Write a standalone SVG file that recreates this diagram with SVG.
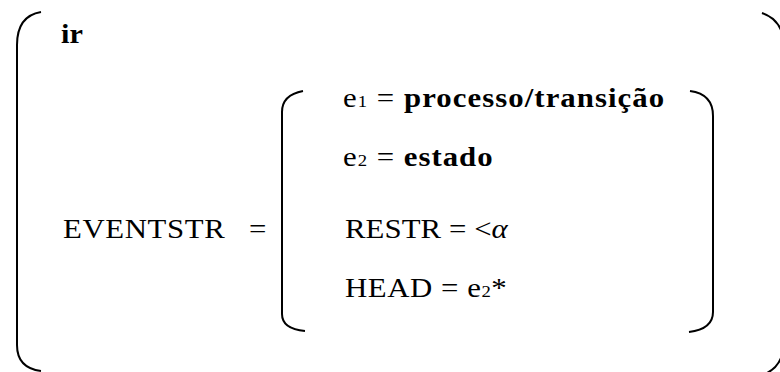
<svg xmlns="http://www.w3.org/2000/svg" width="780" height="372" viewBox="0 0 780 372">
  <style>
    .t { font-family: "Liberation Serif", "DejaVu Serif", serif; font-size: 28px; fill: #000; }
    .b { font-weight: bold; }
    .sub { font-size: 17px; }
    .br { fill: none; stroke: #000; stroke-width: 2; }
  </style>
  <rect width="780" height="372" fill="#fff"/>
  <g id="brackets">
    <!-- outer frame -->
    <path class="br" d="M41,12 Q17,16 17,45 L17,345 Q17,368 41,371"/>
    <path class="br" d="M762,13 Q776,18 781,30"/>
    <path class="br" d="M781,358 Q777,368 767,373"/>
    <!-- inner bracket -->
    <path class="br" d="M303,91 Q282,95 282,112 L282,314 Q282,329 305,331"/>
    <path class="br" d="M690,91 Q713,94 713,116 L713,312 Q713,329 689,332"/>
  </g>
  <g id="title"><text class="t b" transform="translate(61,43) scale(1.08,1)">ir</text></g>
  <g id="lhs">
    <text class="t" transform="translate(63,238) scale(1.1,1)" textLength="147" lengthAdjust="spacing">EVENTSTR</text>
    <text class="t" transform="translate(249,238) scale(1.1,1)">=</text>
  </g>
  <g id="rows">
    <text class="t" transform="translate(343,107) scale(1.1,1)" textLength="292" lengthAdjust="spacing">e<tspan class="sub">1</tspan> = <tspan class="b">processo/transição</tspan></text>
    <text class="t" transform="translate(343,166) scale(1.1,1)" textLength="136" lengthAdjust="spacing">e<tspan class="sub">2</tspan> = <tspan class="b">estado</tspan></text>
    <text class="t" transform="translate(345,238) scale(1.1,1)" textLength="148" lengthAdjust="spacing">RESTR = &lt;<tspan font-style="italic">α</tspan></text>
    <text class="t" transform="translate(345,297) scale(1.1,1)" textLength="147" lengthAdjust="spacing">HEAD = e<tspan class="sub">2</tspan>*</text>
  </g>
</svg>
